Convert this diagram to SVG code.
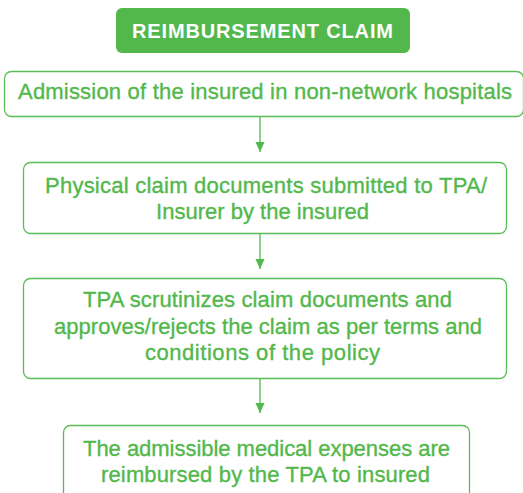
<svg xmlns="http://www.w3.org/2000/svg" width="523" height="493" viewBox="0 0 523 493">
<style>
.box{fill:#fff;stroke:#5bbd55;stroke-width:1.3}
.t{font-family:"Liberation Sans",Arial,sans-serif;font-size:22px;fill:#52b84b;text-anchor:middle;stroke:#52b84b;stroke-width:0.35}
.title{font-family:"Liberation Sans",Arial,sans-serif;font-size:20px;font-weight:bold;fill:#fff;text-anchor:middle}
.c{stroke:#52b84b;stroke-width:1.3;fill:none}
</style>
<defs>
<marker id="ah" markerWidth="10" markerHeight="10" refX="10" refY="5" orient="auto" markerUnits="userSpaceOnUse" viewBox="0 0 10 10">
<path d="M0,0.5 L10,5 L0,9.5 Z" fill="#52b84b"/>
</marker>
</defs>
<g id="title">
<rect x="116" y="8" width="294" height="45" rx="6" fill="#52b84b"/>
<text class="title" x="262.5" y="38" textLength="261" lengthAdjust="spacing">REIMBURSEMENT CLAIM</text>
</g>
<g id="n1">
<rect class="box" x="4.5" y="71.5" width="519" height="45" rx="7"/>
<text class="t" x="265" y="99" textLength="494" lengthAdjust="spacing">Admission of the insured in non-network hospitals</text>
</g>
<g id="n2">
<rect class="box" x="23.5" y="162.5" width="483" height="71" rx="7"/>
<text class="t" x="266" y="193" textLength="442" lengthAdjust="spacing">Physical claim documents submitted to TPA/</text>
<text class="t" x="262.5" y="219" textLength="213" lengthAdjust="spacing">Insurer by the insured</text>
</g>
<g id="n3">
<rect class="box" x="23.5" y="278.5" width="483" height="100" rx="7"/>
<text class="t" x="267.5" y="307" textLength="369" lengthAdjust="spacing">TPA scrutinizes claim documents and</text>
<text class="t" x="268" y="334" textLength="428" lengthAdjust="spacing">approves/rejects the claim as per terms and</text>
<text class="t" x="262.5" y="360" textLength="235" lengthAdjust="spacing">conditions of the policy</text>
</g>
<g id="n4">
<rect class="box" x="63.5" y="425.5" width="406" height="80" rx="7"/>
<text class="t" x="266.5" y="456" textLength="367" lengthAdjust="spacing">The admissible medical expenses are</text>
<text class="t" x="265.5" y="482" textLength="329" lengthAdjust="spacing">reimbursed by the TPA to insured</text>
</g>
<g id="connectors">
<path class="c" d="M260,117 V152" marker-end="url(#ah)"/>
<path class="c" d="M260,234 V269" marker-end="url(#ah)"/>
<path class="c" d="M260,379 V413" marker-end="url(#ah)"/>
</g>
</svg>
